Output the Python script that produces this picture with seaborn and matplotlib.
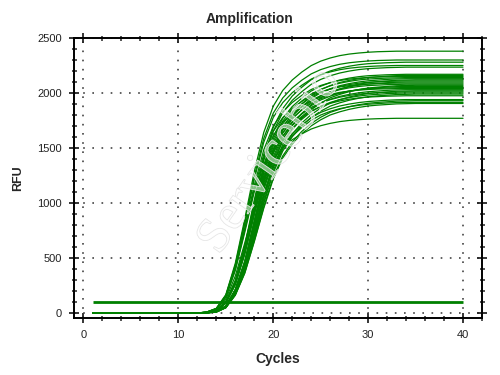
import pandas as pd
import seaborn as sns
import matplotlib
matplotlib.use("Agg")
import matplotlib.pyplot as plt
import matplotlib.patheffects as pe
from matplotlib.ticker import MultipleLocator

# cycles 1..40
cycles = list(range(1, 41))

# normalised amplification profiles (fraction of plateau)
profile_early = [0, 0, 0, 0, 0, 0, 0, 0, 0, 0, 0, 0,
                 .004, .018, .07, .19, .36, .54, .69, .79, .85, .89, .92, .945,
                 .962, .974, .983, .989, .993, .996, .998, .999,
                 1, 1, 1, 1, 1, 1, 1, 1]
profile_mid = [0, 0, 0, 0, 0, 0, 0, 0, 0, 0, 0, 0,
               .002, .009, .045, .13, .27, .45, .62, .74, .815, .865, .90, .93,
               .95, .965, .976, .984, .99, .994, .996, .998, .999,
               1, 1, 1, 1, 1, 1, 1]
profile_late = [0, 0, 0, 0, 0, 0, 0, 0, 0, 0, 0, 0,
                .0015, .006, .03, .10, .22, .39, .56, .69, .78, .84, .88, .915,
                .94, .957, .97, .979, .986, .991, .994, .997, .999,
                1, 1, 1, 1, 1, 1, 1]
profile_latest = [0, 0, 0, 0, 0, 0, 0, 0, 0, 0, 0, 0,
                  .001, .005, .025, .085, .19, .34, .50, .64, .74, .805, .855, .893,
                  .922, .945, .96, .972, .981, .988, .992, .995, .998, .999,
                  1, 1, 1, 1, 1, 1]
profiles = {"E": profile_early, "M": profile_mid, "L": profile_late, "X": profile_latest}

# end-point RFU of each well and which profile it follows
plateaus = [2380, 2300, 2280, 2250, 2235, 2170, 2160, 2150, 2140, 2130,
            2120, 2110, 2100, 2090, 2080, 2070, 2060, 2050, 2040, 2030,
            2020, 2010, 2000, 1990, 1975, 1940, 1930, 1915, 1905, 1770]
well_profile = ["E", "E", "M", "E", "M", "M", "L", "E", "M", "L",
                "X", "M", "L", "E", "M", "X", "L", "M", "E", "L",
                "X", "M", "L", "X", "M", "L", "X", "L", "X", "E"]

threshold = 100

rows = []
for w, (top, p) in enumerate(zip(plateaus, well_profile)):
    for c, f in zip(cycles, profiles[p]):
        rows.append({"well": w, "cycle": c, "rfu": top * f})
df = pd.DataFrame(rows)

sns.set_style("ticks")
plt.rcParams["font.family"] = ["Liberation Sans", "DejaVu Sans"]

green = "#008000"
fig = plt.figure(figsize=(5, 3.75), dpi=100)
ax = fig.add_axes([0.148, 0.152, 0.816, 0.7467])

sns.lineplot(data=df, x="cycle", y="rfu", units="well", estimator=None,
             color=green, lw=0.9, legend=False, ax=ax)
ax.hlines(threshold, cycles[0], cycles[-1], color=green, lw=2.0)

ax.set_xlim(-1, 42)
ax.set_ylim(-45, 2500)
ax.xaxis.set_major_locator(MultipleLocator(10))
ax.xaxis.set_minor_locator(MultipleLocator(2))
ax.yaxis.set_major_locator(MultipleLocator(500))
ax.yaxis.set_minor_locator(MultipleLocator(100))

ax.grid(True, which="major", color="#444444", lw=1.2, linestyle=(0, (1, 4.5)))
for s in ax.spines.values():
    s.set_linewidth(1.4)
    s.set_color("black")
    s.set_visible(True)

ax.tick_params(which="major", direction="inout", length=7, width=1.3,
               labelsize=8, pad=5, labelcolor="#222222",
               top=True, right=True)
ax.tick_params(which="minor", direction="inout", length=3.6, width=1.1,
               top=True, right=True)

ax.set_xlabel("Cycles", fontsize=10, fontweight="bold", labelpad=9)
ax.set_ylabel("RFU", fontsize=9, fontweight="bold", labelpad=10)
fig.text(0.5, 1 - 19 / 375, "Amplification", ha="center", va="center",
         fontsize=10, fontweight="bold")

# faint watermark
fig.text(0.54, 0.57, "Servicebio", family="Liberation Serif", fontsize=36,
         rotation=55, ha="center", va="center", color=(1, 1, 1, 0.3),
         path_effects=[pe.Stroke(linewidth=0.6, foreground="#e2e2e2"), pe.Normal()])

fig.savefig("out.png", dpi=100)
